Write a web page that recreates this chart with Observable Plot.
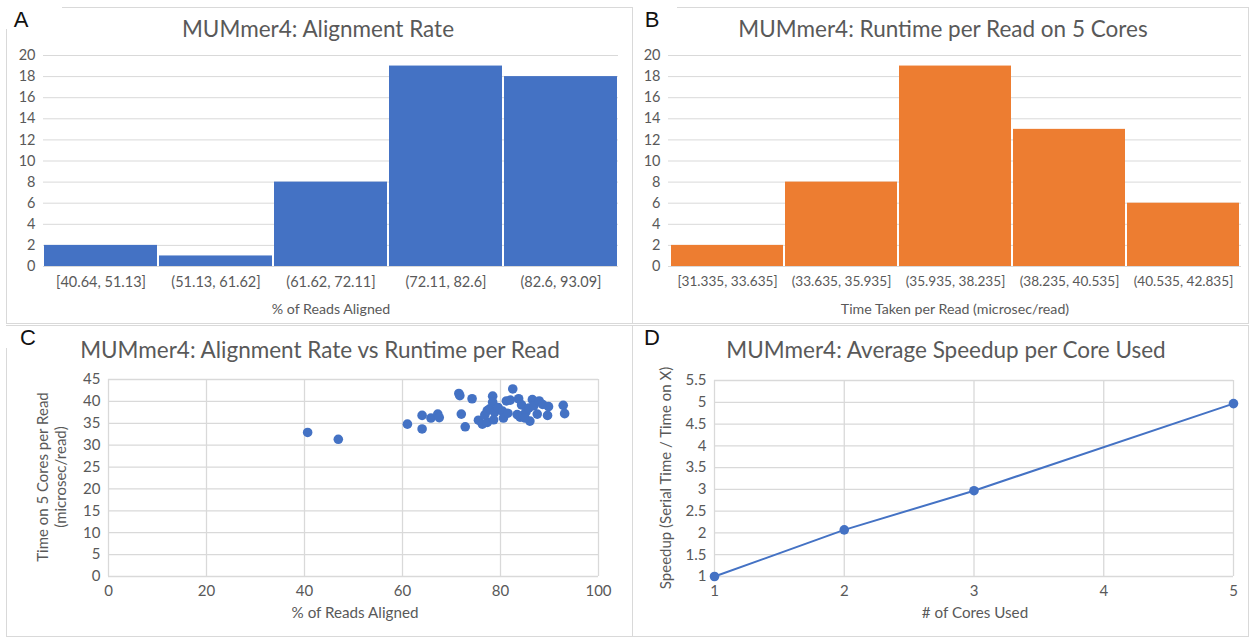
<!DOCTYPE html>
<html>
<head>
<meta charset="utf-8">
<script src="https://cdn.jsdelivr.net/npm/d3@7"></script>
<script src="https://cdn.jsdelivr.net/npm/@observablehq/plot@0.6"></script>
<style>
  html, body { margin: 0; padding: 0; background: #fff; }
  #root { position: relative; width: 1250px; height: 639px; overflow: hidden; font-family: Lato, "Liberation Sans", sans-serif; }
  .frame { position: absolute; border: 1px solid #d9d9d9; box-sizing: border-box; }
  .mask { position: absolute; background: #fff; }
  .letter { position: absolute; font-family: "Liberation Sans", sans-serif; font-size: 22px; color: #111; transform: translate(-50%, -50%); line-height: 1; }
  .title { position: absolute; color: #595959; font-size: 22.5px; transform: translate(-50%, -50%); white-space: nowrap; line-height: 1; }
  .axt { position: absolute; color: #595959; font-size: 14.2px; transform: translate(-50%, -50%); white-space: nowrap; line-height: 1; }
  .axty { position: absolute; color: #595959; font-size: 15px; transform: translate(-50%, -50%) rotate(-90deg); white-space: nowrap; line-height: 1.2; text-align: center; }
  .plot { position: absolute; }
</style>
</head>
<body>
<div id="root"></div>
<script>
// ---------- data ----------
const alignBins = ["[40.64, 51.13]", "(51.13, 61.62]", "(61.62, 72.11]", "(72.11, 82.6]", "(82.6, 93.09]"];
const alignCounts = [2, 1, 8, 19, 18];
const timeBins = ["[31.335, 33.635]", "(33.635, 35.935]", "(35.935, 38.235]", "(38.235, 40.535]", "(40.535, 42.835]"];
const timeCounts = [2, 8, 19, 13, 6];
const histTicks = [0, 2, 4, 6, 8, 10, 12, 14, 16, 18, 20];

const alignPct = [40.64, 46.9, 61.0, 64.0, 64.0, 65.8, 67.2, 67.5, 71.5, 71.7, 72.0,
  72.8, 74.2, 75.5, 76.3, 77.3, 76.8, 77.3, 77.8, 78.4, 78.4, 78.8, 78.6, 79.5, 80.4, 80.6, 81.2, 81.5, 82.0, 82.5,
  83.7, 84.3, 83.4, 84.0, 84.6, 85.2, 85.8, 86.0, 86.5, 86.8, 87.5, 87.9, 88.6, 89.6, 89.8, 92.8, 93.09, 85.0];
const timePerRead = [32.9, 31.335, 34.8, 36.8, 33.7, 36.2, 37.1, 36.3, 41.8, 41.3, 37.1,
  34.2, 40.6, 35.7, 34.8, 35.2, 36.9, 37.9, 38.3, 41.2, 39.8, 37.5, 35.8, 38.6, 37.8, 36.2, 40.1, 37.3, 40.3, 42.835,
  40.6, 39.2, 37.0, 36.4, 36.8, 37.6, 38.5, 35.5, 40.4, 39.0, 37.1, 40.1, 39.3, 36.8, 38.8, 39.1, 37.2, 36.2];
const scatterXTicks = [0, 20, 40, 60, 80, 100];
const scatterYTicks = [0, 5, 10, 15, 20, 25, 30, 35, 40, 45];

const cores = [1, 2, 3, 5];
const speedup = [1, 2.07, 2.97, 4.97];
const coreTicks = [1, 2, 3, 4, 5];
const speedTicks = [1, 1.5, 2, 2.5, 3, 3.5, 4, 4.5, 5, 5.5];

// ---------- helpers ----------
const root = document.getElementById("root");
const BLUE = "#4472c4", ORANGE = "#ed7d31", GRID = "#d9d9d9", TXT = "#595959";
const FONT = 'Lato, "Liberation Sans", sans-serif';
const fmt = d => String(d);

function add(cls, text, x, y, extra) {
  const d = document.createElement("div");
  d.className = cls;
  if (cls === "axty") d.innerHTML = text; else d.textContent = text;
  d.style.left = x + "px"; d.style.top = y + "px";
  if (extra) Object.assign(d.style, extra);
  root.appendChild(d);
  return d;
}
function box(cls, l, t, w, h) {
  const d = document.createElement("div");
  d.className = cls;
  Object.assign(d.style, {left: l + "px", top: t + "px", width: w + "px", height: h + "px"});
  root.appendChild(d);
}
function place(svg, l, t) {
  const w = document.createElement("div");
  w.className = "plot";
  w.style.left = l + "px"; w.style.top = t + "px";
  w.appendChild(svg);
  root.appendChild(w);
}
const baseStyle = {fontFamily: FONT, fontSize: "14.5px", color: TXT, background: "transparent", overflow: "visible"};

// ---------- frames ----------
box("frame", 6, 7, 627, 317);
box("frame", 632, 7, 617, 317);
box("frame", 6, 325, 627, 312);
box("frame", 632, 325, 617, 312);
box("mask", 0, 0, 62, 29);
box("mask", 633, 0, 44, 29);
box("mask", 0, 326, 62, 22);
box("mask", 633, 326, 54, 22);
add("letter", "A", 21, 20);
add("letter", "B", 652, 20);
add("letter", "C", 28, 338);
add("letter", "D", 652, 338);

// ---------- A: histogram alignment ----------
const histA = alignBins.map((b, i) => ({bin: b, count: alignCounts[i]}));
place(Plot.plot({
  width: 632, height: 260, marginLeft: 43, marginRight: 14, marginTop: 15, marginBottom: 34,
  style: baseStyle,
  x: {type: "band", domain: alignBins, padding: 0},
  y: {domain: [0, 20]},
  marks: [
    Plot.gridY(histTicks, {stroke: GRID, strokeOpacity: 1}),
    Plot.barY(histA, {x: "bin", y: "count", fill: BLUE, insetLeft: 1, insetRight: 1}),
    Plot.axisY(histTicks, {tickSize: 0, tickPadding: 8, label: null, tickFormat: fmt}),
    Plot.axisX({tickSize: 0, tickPadding: 10, label: null})
  ]
}), 0, 40);
add("title", "MUMmer4: Alignment Rate", 318, 29);
add("axt", "% of Reads Aligned", 331, 309);

// ---------- B: histogram runtime ----------
const histB = timeBins.map((b, i) => ({bin: b, count: timeCounts[i]}));
place(Plot.plot({
  width: 618, height: 260, marginLeft: 36, marginRight: 9, marginTop: 15, marginBottom: 34,
  style: baseStyle,
  x: {type: "band", domain: timeBins, padding: 0},
  y: {domain: [0, 20]},
  marks: [
    Plot.gridY(histTicks, {stroke: GRID, strokeOpacity: 1}),
    Plot.barY(histB, {x: "bin", y: "count", fill: ORANGE, insetLeft: 1, insetRight: 1}),
    Plot.axisY(histTicks, {tickSize: 0, tickPadding: 8, label: null, tickFormat: fmt}),
    Plot.axisX({tickSize: 0, tickPadding: 10, label: null, fontSize: 13.6})
  ]
}), 632, 40);
add("title", "MUMmer4: Runtime per Read on 5 Cores", 943, 29);
add("axt", "Time Taken per Read (microsec/read)", 955, 309);

// ---------- C: scatter ----------
const pts = alignPct.map((a, i) => ({a, t: timePerRead[i]}));
place(Plot.plot({
  width: 632, height: 240, marginLeft: 108, marginRight: 34, marginTop: 14, marginBottom: 29,
  style: {...baseStyle, fontSize: "15px"},
  x: {domain: [0, 100]},
  y: {domain: [0, 45]},
  marks: [
    Plot.gridY(scatterYTicks, {stroke: GRID, strokeOpacity: 1, strokeWidth: 1.3}),
    Plot.gridX(scatterXTicks, {stroke: GRID, strokeOpacity: 1, strokeWidth: 1.3}),
    Plot.dot(pts, {x: "a", y: "t", r: 4.8, fill: BLUE}),
    Plot.axisY(scatterYTicks, {tickSize: 0, tickPadding: 8, label: null, tickFormat: fmt}),
    Plot.axisX(scatterXTicks, {tickSize: 0, tickPadding: 9, label: null, tickFormat: fmt})
  ]
}), 0, 365);
add("title", "MUMmer4: Alignment Rate vs Runtime per Read", 320, 350);
add("axt", "% of Reads Aligned", 355, 613, {fontSize: "15.2px"});
add("axty", "Time on 5 Cores per Read<br>(microsec/read)", 51, 477);

// ---------- D: speedup line ----------
const sp = cores.map((c, i) => ({c, s: speedup[i]}));
place(Plot.plot({
  width: 618, height: 240, marginLeft: 82, marginRight: 17, marginTop: 15, marginBottom: 29,
  style: {...baseStyle, fontSize: "15px"},
  x: {domain: [1, 5]},
  y: {domain: [1, 5.5]},
  marks: [
    Plot.gridY(speedTicks, {stroke: GRID, strokeOpacity: 1, strokeWidth: 1.3}),
    Plot.gridX(coreTicks, {stroke: GRID, strokeOpacity: 1, strokeWidth: 1.3}),
    Plot.line(sp, {x: "c", y: "s", stroke: BLUE, strokeWidth: 2}),
    Plot.dot(sp, {x: "c", y: "s", r: 4.8, fill: BLUE}),
    Plot.axisY(speedTicks, {tickSize: 0, tickPadding: 8, label: null, tickFormat: fmt}),
    Plot.axisX(coreTicks, {tickSize: 0, tickPadding: 9, label: null, tickFormat: fmt})
  ]
}), 632, 365);
add("title", "MUMmer4: Average Speedup per Core Used", 946, 350);
add("axt", "# of Cores Used", 975, 613, {fontSize: "15.2px"});
add("axty", "Speedup (Serial Time / Time on X)", 665, 478);
</script>
</body>
</html>
